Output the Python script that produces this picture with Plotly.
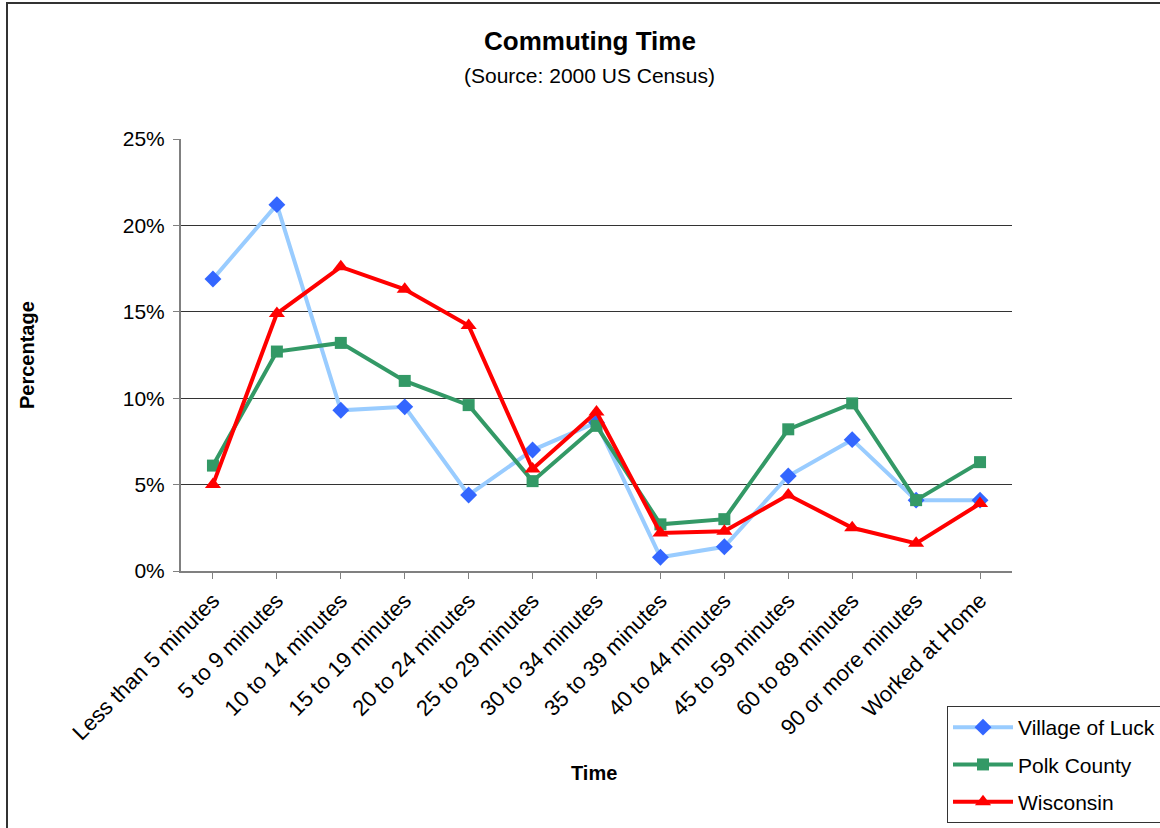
import plotly.graph_objects as go

categories = [
    "Less than 5 minutes", "5 to 9 minutes", "10 to 14 minutes", "15 to 19 minutes",
    "20 to 24 minutes", "25 to 29 minutes", "30 to 34 minutes", "35 to 39 minutes",
    "40 to 44 minutes", "45 to 59 minutes", "60 to 89 minutes", "90 or more minutes",
    "Worked at Home",
]
village_of_luck = [16.9, 21.2, 9.3, 9.5, 4.4, 7.0, 8.6, 0.8, 1.4, 5.5, 7.6, 4.1, 4.1]
polk_county = [6.1, 12.7, 13.2, 11.0, 9.6, 5.2, 8.4, 2.7, 3.0, 8.2, 9.7, 4.1, 6.3]
wisconsin = [5.0, 14.9, 17.6, 16.3, 14.2, 5.9, 9.2, 2.2, 2.3, 4.4, 2.5, 1.6, 3.9]
y_ticks = [0, 5, 10, 15, 20, 25]
y_tick_text = [f"{v}%" for v in y_ticks]

W, H = 1160, 828
L, R, T, B = 181, 1012, 139, 571
pw, ph = R - L, B - T

def px(x):
    return (x - L) / pw

def py(y):
    return (B - y) / ph

font = "Liberation Sans, Arial, sans-serif"
x = list(range(len(categories)))

fig = go.Figure()
fig.add_trace(go.Scatter(
    x=x, y=village_of_luck, name="Village of Luck", mode="lines+markers",
    legendgroup="luck",
    line=dict(color="#99CCFF", width=4),
    marker=dict(symbol="diamond", size=13, color="#3366FF"),
))
fig.add_trace(go.Scatter(
    x=x, y=polk_county, name="Polk County", mode="lines+markers",
    legendgroup="polk",
    line=dict(color="#339966", width=4),
    marker=dict(symbol="square", size=12, color="#339966"),
))
fig.add_trace(go.Scatter(
    x=x, y=wisconsin, name="Wisconsin", mode="lines+markers",
    legendgroup="wi",
    line=dict(color="#FF0000", width=4),
    marker=dict(symbol="triangle-up", size=14, color="#FF0000"),
))

fig.update_layout(
    width=W, height=H,
    margin=dict(l=L, r=W - R, t=T, b=H - B, autoexpand=False),
    paper_bgcolor="white", plot_bgcolor="white",
    font=dict(family=font, size=21, color="black"),
    showlegend=True,
    legend=dict(
        x=px(947), y=py(706), xanchor="left", yanchor="top",
        bordercolor="#333333", borderwidth=1, bgcolor="white",
        font=dict(family=font, size=21, color="black"),
        itemwidth=60, tracegroupgap=7,
    ),
    shapes=[dict(
        type="rect", xref="paper", yref="paper",
        x0=px(7), x1=px(1175), y0=py(840), y1=py(3),
        line=dict(color="#333333", width=2), fillcolor="rgba(0,0,0,0)",
        layer="below",
    )],
    annotations=[
        dict(text="<b>Commuting Time</b>", xref="paper", yref="paper",
             x=px(590), y=py(41), xanchor="center", yanchor="middle", showarrow=False,
             font=dict(family=font, size=26, color="black")),
        dict(text="(Source: 2000 US Census)", xref="paper", yref="paper",
             x=px(589), y=py(75), xanchor="center", yanchor="middle", showarrow=False,
             font=dict(family=font, size=21, color="black")),
        dict(text="<b>Percentage</b>", xref="paper", yref="paper",
             x=px(27), y=py(355), xanchor="center", yanchor="middle",
             showarrow=False, textangle=-90,
             font=dict(family=font, size=20, color="black")),
        dict(text="<b>Time</b>", xref="paper", yref="paper",
             x=px(594), y=py(773), xanchor="center", yanchor="middle", showarrow=False,
             font=dict(family=font, size=20, color="black")),
    ],
)

fig.update_xaxes(
    range=[-0.5, len(categories) - 0.5],
    tickmode="array", tickvals=x, ticktext=categories,
    tickangle=-45, tickson="boundaries",
    ticks="outside", ticklen=6, tickcolor="#808080", tickwidth=1,
    showline=True, linecolor="#808080", linewidth=2,
    showgrid=False, zeroline=False,
    tickfont=dict(family=font, size=22, color="black"),
)
fig.update_yaxes(
    range=[0, 25], tickmode="array", tickvals=y_ticks, ticktext=y_tick_text,
    ticks="outside", ticklen=6, tickcolor="#808080", tickwidth=1,
    ticklabelstandoff=4,
    showline=True, linecolor="#808080", linewidth=2,
    showgrid=True, gridcolor="#333333", gridwidth=1,
    zeroline=False,
    tickfont=dict(family=font, size=21, color="black"),
)

fig.write_html("out.html")
